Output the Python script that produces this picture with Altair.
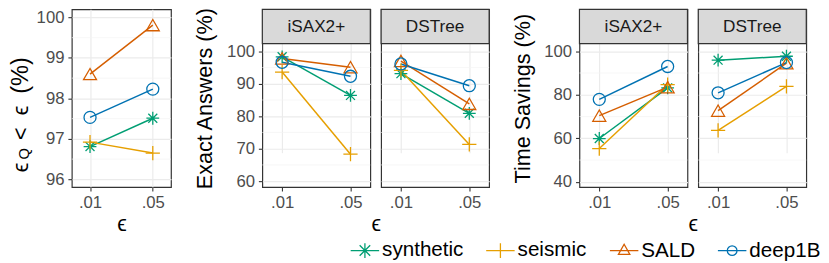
import altair as alt
import pandas as pd

# ---------------- data ----------------
datasets = ["synthetic", "seismic", "SALD", "deep1B"]
palette = ["#009E73", "#E69F00", "#D55E00", "#0072B2"]
eps = [".01", ".05"]
strips = ["iSAX2+", "DSTree"]

# epsilon_Q < epsilon (%)
epsq_synthetic = [96.81, 97.51]
epsq_seismic = [96.92, 96.65]
epsq_SALD = [98.60, 99.81]
epsq_deep1B = [97.53, 98.23]

# Exact answers (%)
exact_isax_synthetic = [98.3, 86.4]
exact_isax_seismic = [93.6, 68.3]
exact_isax_SALD = [97.8, 95.1]
exact_isax_deep1B = [96.6, 92.3]
exact_dstree_synthetic = [93.1, 80.9]
exact_dstree_seismic = [94.1, 71.3]
exact_dstree_SALD = [97.0, 83.8]
exact_dstree_deep1B = [96.1, 89.4]

# Time savings (%)
time_isax_synthetic = [59.9, 83.2]
time_isax_seismic = [55.3, 84.7]
time_isax_SALD = [70.4, 83.5]
time_isax_deep1B = [77.9, 93.0]
time_dstree_synthetic = [95.9, 97.7]
time_dstree_seismic = [63.6, 83.9]
time_dstree_SALD = [72.7, 94.5]
time_dstree_deep1B = [80.9, 94.8]

# axis ticks
epsq_ticks = [96, 97, 98, 99, 100]
epsq_minor = [96.5, 97.5, 98.5, 99.5]
exact_ticks = [60, 70, 80, 90, 100]
exact_minor = [65, 75, 85, 95]
time_ticks = [40, 60, 80, 100]
time_minor = [50, 70, 90]

# title pieces of the first panel (epsilon_Q < epsilon (%))
epsq_title = ["ϵ", "Q", "<", "ϵ", "(%)"]

# ---------------- styling ----------------
FONT = "Liberation Sans"
H = 181   # panel height (strip included for faceted panels)
S = 35    # strip height
point_paths = {
    "synthetic": "M-1,0L1,0M0,-1L0,1M-0.7,-0.7L0.7,0.7M-0.7,0.7L0.7,-0.7",
    "seismic": "M-1,0L1,0M0,-1L0,1",
    "SALD": "triangle-up",
    "deep1B": "circle",
}
point_sizes = {"synthetic": 170, "seismic": 210, "SALD": 175, "deep1B": 150}
legend_paths = [
    "M-1,0L1,0M0,-0.52L0,0.52M-0.37,-0.37L0.37,0.37M-0.37,0.37L0.37,-0.37",
    "M-1,0L1,0M0,-0.52L0,0.52",
    "M-1,0L1,0M0,-0.45L0.4,0.26L-0.4,0.26Z",
    "M-1,0L1,0M0.34,0A0.34,0.34,0,1,1,-0.34,0A0.34,0.34,0,1,1,0.34,0",
]

color_scale = alt.Scale(domain=datasets, range=palette)
x_scale = alt.Scale(type="point", domain=eps, padding=0.29)
leg = alt.Legend(title=None, orient="none", legendX=283, legendY=230,
                 direction="horizontal", columns=4, labelFontSize=21,
                 labelColor="black", labelFont=FONT, symbolSize=841,
                 symbolStrokeWidth=1.3, columnPadding=20, labelOffset=2)


def long_df(series):
    rows = []
    for d, vals in zip(datasets, series):
        for e, v in zip(eps, vals):
            rows.append({"dataset": d, "eps": e, "value": v})
    return pd.DataFrame(rows)


def panel(df, ydom, yvals, yminor, width, strip=None, ytitle=None,
          show_y=True, xtitle=None, xtitle_x=None, with_legend=False):
    yrange = [H, S] if strip else [H, 0]
    yscale = alt.Scale(domain=ydom, range=yrange, zero=False, nice=False)
    if show_y:
        yaxis = alt.Axis(values=yvals, format="d", title=ytitle, titlePadding=10,
                         titleY=H / 2)
    else:
        yaxis = alt.Axis(values=yvals, labels=False, ticks=False, title=None)
    xargs = dict(labelAngle=0, title=xtitle, titlePadding=3)
    if xtitle_x is not None:
        xargs["titleX"] = xtitle_x
    xaxis = alt.Axis(**xargs)

    x = alt.X("eps:O", scale=x_scale, axis=xaxis, sort=eps)
    y = alt.Y("value:Q", scale=yscale, axis=yaxis)
    col = alt.Color("dataset:N", scale=color_scale, legend=leg)

    minor = alt.Chart(pd.DataFrame({"m": yminor})).mark_rule(
        color="#F4F4F4", strokeWidth=0.7).encode(
        y=alt.Y("m:Q", scale=yscale, axis=yaxis))
    base = alt.Chart(df)
    layers = [minor, base.mark_line(strokeWidth=1.5).encode(x=x, y=y, color=col)]
    for d in datasets:
        layers.append(
            base.transform_filter(alt.datum.dataset == d).mark_point(
                filled=False, strokeWidth=1.3, opacity=1,
                shape=point_paths[d], size=point_sizes[d]).encode(x=x, y=y, color=col))
    if strip:
        sdf = pd.DataFrame({"panel": [strip]})
        layers.append(alt.Chart(sdf).mark_rect(
            fill="#D9D9D9", stroke="#333333", strokeWidth=1.2).encode(
            x=alt.value(0), x2=alt.value(width), y=alt.value(0), y2=alt.value(S)))
        layers.append(alt.Chart(sdf).mark_text(
            fontSize=17.5, color="#1A1A1A", font=FONT).encode(
            text="panel:N", x=alt.value(width / 2), y=alt.value(S / 2 + 1)))
    if with_legend:
        layers.append(
            base.transform_filter("datum.value < -1000").mark_point(
                filled=False, strokeWidth=1.3).encode(
                x=x, y=y, color=col,
                shape=alt.Shape("dataset:N",
                                scale=alt.Scale(domain=datasets, range=legend_paths),
                                legend=leg)))
    return alt.layer(*layers).properties(width=width, height=H)


def spacer(w):
    return alt.Chart(pd.DataFrame({"a": [0]})).mark_point(opacity=0).encode(
        x=alt.value(0), y=alt.value(0)).properties(
        width=w, height=H, view=alt.ViewBackground(stroke="transparent"))


def title_piece(text, size, xpos, ypos):
    return alt.Chart(pd.DataFrame({"t": [text]})).mark_text(
        angle=270, align="left", baseline="alphabetic", fontSize=size, font=FONT,
        color="black").encode(text="t:N", x=alt.value(xpos), y=alt.value(ypos))


# panel 1 with custom (sub-scripted) y title
p1 = panel(long_df([epsq_synthetic, epsq_seismic, epsq_SALD, epsq_deep1B]),
           [95.81, 100.2], epsq_ticks, epsq_minor, 101, xtitle="ϵ")
p1 = alt.layer(
    p1,
    title_piece(epsq_title[0], 22, -45, 166),
    title_piece(epsq_title[1], 15, -44, 153),
    title_piece(epsq_title[2], 22, -45, 133),
    title_piece(epsq_title[3], 22, -45, 108),
    title_piece(epsq_title[4], 24, -45, 86),
)

p2 = panel(long_df([exact_isax_synthetic, exact_isax_seismic, exact_isax_SALD, exact_isax_deep1B]),
           [58.19, 102.33], exact_ticks, exact_minor, 110, strip=strips[0],
           ytitle="Exact Answers (%)", xtitle="ϵ", xtitle_x=115.5)
p3 = panel(long_df([exact_dstree_synthetic, exact_dstree_seismic, exact_dstree_SALD, exact_dstree_deep1B]),
           [58.19, 102.33], exact_ticks, exact_minor, 110, strip=strips[1], show_y=False)
p4 = panel(long_df([time_isax_synthetic, time_isax_seismic, time_isax_SALD, time_isax_deep1B]),
           [37.6, 103.47], time_ticks, time_minor, 110, strip=strips[0],
           ytitle="Time Savings (%)", xtitle="ϵ", xtitle_x=115.5)
p5 = panel(long_df([time_dstree_synthetic, time_dstree_seismic, time_dstree_SALD, time_dstree_deep1B]),
           [37.6, 103.47], time_ticks, time_minor, 110, strip=strips[1], show_y=False,
           with_legend=True)

chart = alt.hconcat(p1, spacer(71), p2, p3, spacer(70), p4, p5,
                    spacing=11, bounds="flush",
                    padding={"top": -5, "left": 0, "right": 0, "bottom": 0}).configure(
    font=FONT, background="white"
).configure_view(
    stroke="#333333", strokeWidth=1.2
).configure_axis(
    labelFont=FONT, labelFontSize=17, labelColor="#4D4D4D", labelPadding=4,
    tickColor="#333333", tickSize=4, tickWidth=1.1, domain=False,
    grid=True, gridColor="#EBEBEB", gridWidth=1.2,
    titleFont=FONT, titleFontSize=22, titleFontWeight="normal", titleColor="black"
)

chart.save("out.html", embed_options={"renderer": "svg", "actions": False})
